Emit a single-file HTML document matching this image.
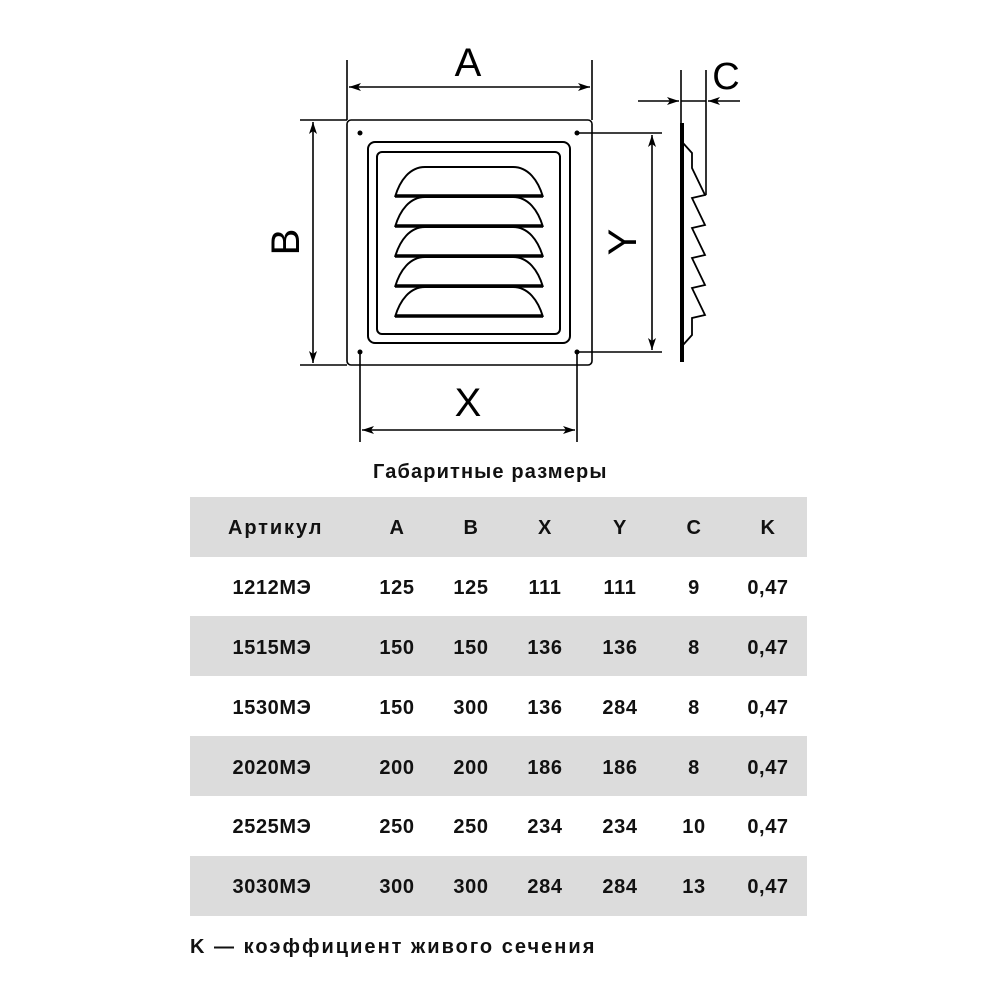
<!DOCTYPE html>
<html><head><meta charset="utf-8"><style>
body{margin:0;background:#fff;width:1000px;height:1000px;overflow:hidden}
svg{position:absolute;left:0;top:0}
</style></head><body>
<svg width="1000" height="1000" viewBox="0 0 1000 1000" xmlns="http://www.w3.org/2000/svg">
<defs>
<marker id="ar" viewBox="0 0 12 8" refX="12" refY="4" markerWidth="12" markerHeight="8" orient="auto-start-reverse" markerUnits="userSpaceOnUse"><path d="M0,0 L12,4 L0,8 L3,4 z" fill="#000"/></marker>
</defs>
<g fill="none" stroke="#000" stroke-width="1.6">
<rect x="347" y="120" width="245" height="245" rx="4"/>
<rect x="368" y="142" width="202" height="201" rx="7" stroke-width="2"/>
<rect x="377" y="152" width="183" height="182" rx="5" stroke-width="2"/>
<g stroke-width="2">
<path d="M395,197 C400,180 410,167 425,167 L513,167 C528,167 538,180 543,197"/>
<path d="M395,227 C400,210 410,197 425,197 L513,197 C528,197 538,210 543,227"/>
<path d="M395,257 C400,240 410,227 425,227 L513,227 C528,227 538,240 543,257"/>
<path d="M395,287 C400,270 410,257 425,257 L513,257 C528,257 538,270 543,287"/>
<path d="M395,317 C400,300 410,287 425,287 L513,287 C528,287 538,300 543,317"/>
</g>
<g stroke-width="3.5">
<line x1="395" y1="196" x2="543" y2="196"/><line x1="395" y1="226" x2="543" y2="226"/><line x1="395" y1="256" x2="543" y2="256"/><line x1="395" y1="286" x2="543" y2="286"/><line x1="395" y1="316" x2="543" y2="316"/>
</g>
<line x1="347" y1="60" x2="347" y2="120"/><line x1="592" y1="60" x2="592" y2="120"/>
<line x1="349" y1="87" x2="590" y2="87" marker-start="url(#ar)" marker-end="url(#ar)"/>
<line x1="300" y1="120" x2="347" y2="120"/><line x1="300" y1="365" x2="347" y2="365"/>
<line x1="313" y1="122" x2="313" y2="363" marker-start="url(#ar)" marker-end="url(#ar)"/>
<line x1="360" y1="352" x2="360" y2="442"/><line x1="577" y1="352" x2="577" y2="442"/>
<line x1="362" y1="430" x2="575" y2="430" marker-start="url(#ar)" marker-end="url(#ar)"/>
<line x1="577" y1="133" x2="662" y2="133"/><line x1="577" y1="352" x2="662" y2="352"/>
<line x1="652" y1="135" x2="652" y2="350" marker-start="url(#ar)" marker-end="url(#ar)"/>
<line x1="681" y1="70" x2="681" y2="124"/>
<line x1="706" y1="70" x2="706" y2="195"/>
<line x1="638" y1="101" x2="679" y2="101" marker-end="url(#ar)"/>
<line x1="740" y1="101" x2="708" y2="101" marker-end="url(#ar)"/>
<line x1="681" y1="101" x2="706" y2="101"/>
<line x1="682" y1="123" x2="682" y2="362" stroke-width="4"/>
<path d="M683,143 L692,153 L692,168 L705,195 L692,198 L705,225 L692,228 L705,255 L692,258 L705,285 L692,288 L705,315 L692,318 L692,335 L683,345" stroke-width="1.8"/>
</g>
<g fill="#000">
<circle cx="360" cy="133" r="2.5"/><circle cx="577" cy="133" r="2.5"/><circle cx="360" cy="352" r="2.5"/><circle cx="577" cy="352" r="2.5"/>
</g>
<g font-family="Liberation Sans, sans-serif" font-size="40" fill="#000" text-anchor="middle">
<text x="468" y="76">A</text>
<text x="468" y="416">X</text>
<text x="726" y="89" font-size="38">C</text>
<text transform="translate(299,242) rotate(-90)">B</text>
<text transform="translate(636,242) rotate(-90)">Y</text>
</g>
<g fill="#dcdcdc">
<rect x="190" y="497" width="617" height="60"/>
<rect x="190" y="616" width="617" height="60"/>
<rect x="190" y="736" width="617" height="60"/>
<rect x="190" y="856" width="617" height="60"/>
</g>
<g font-family="Liberation Sans, sans-serif" font-weight="bold" font-size="20" letter-spacing="0.6" fill="#111" text-anchor="middle">
<text x="490" y="478" textLength="234" lengthAdjust="spacing">Габаритные размеры</text>
<text x="275" y="534" textLength="94" lengthAdjust="spacing">Артикул</text><text x="397" y="534">A</text><text x="471" y="534">B</text><text x="545" y="534">X</text><text x="620" y="534">Y</text><text x="694" y="534">C</text><text x="768" y="534">K</text>
<text x="272" y="594">1212МЭ</text><text x="397" y="594">125</text><text x="471" y="594">125</text><text x="545" y="594">111</text><text x="620" y="594">111</text><text x="694" y="594">9</text><text x="768" y="594">0,47</text>
<text x="272" y="654">1515МЭ</text><text x="397" y="654">150</text><text x="471" y="654">150</text><text x="545" y="654">136</text><text x="620" y="654">136</text><text x="694" y="654">8</text><text x="768" y="654">0,47</text>
<text x="272" y="714">1530МЭ</text><text x="397" y="714">150</text><text x="471" y="714">300</text><text x="545" y="714">136</text><text x="620" y="714">284</text><text x="694" y="714">8</text><text x="768" y="714">0,47</text>
<text x="272" y="774">2020МЭ</text><text x="397" y="774">200</text><text x="471" y="774">200</text><text x="545" y="774">186</text><text x="620" y="774">186</text><text x="694" y="774">8</text><text x="768" y="774">0,47</text>
<text x="272" y="833">2525МЭ</text><text x="397" y="833">250</text><text x="471" y="833">250</text><text x="545" y="833">234</text><text x="620" y="833">234</text><text x="694" y="833">10</text><text x="768" y="833">0,47</text>
<text x="272" y="893">3030МЭ</text><text x="397" y="893">300</text><text x="471" y="893">300</text><text x="545" y="893">284</text><text x="620" y="893">284</text><text x="694" y="893">13</text><text x="768" y="893">0,47</text>
<text x="190" y="953" text-anchor="start" textLength="405" lengthAdjust="spacing">K — коэффициент живого сечения</text>
</g>
</svg>
</body></html>
